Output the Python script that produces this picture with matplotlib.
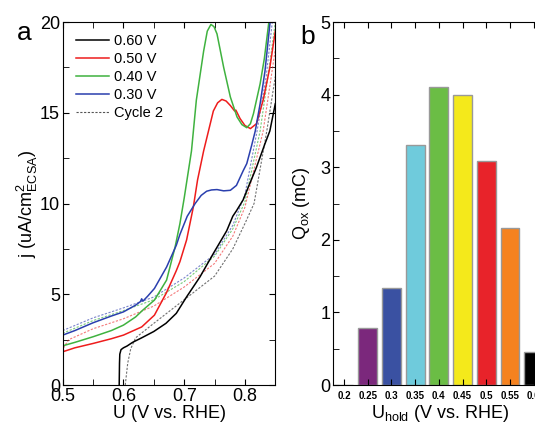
import matplotlib
matplotlib.use("Agg")
import matplotlib.pyplot as plt
from matplotlib.ticker import MultipleLocator

plt.rcParams["font.family"] = ["Liberation Sans", "DejaVu Sans"]
plt.rcParams["mathtext.fontset"] = "custom"
plt.rcParams["mathtext.rm"] = "Liberation Sans"
plt.rcParams["mathtext.it"] = "Liberation Sans"

# ---- panel a: sweeps after holding (solid) and cycle 2 (dotted) ----
black_x = [0.593, 0.5935, 0.594, 0.596, 0.600, 0.606, 0.615, 0.630, 0.650, 0.670, 0.687,
           0.704, 0.726, 0.748, 0.770, 0.780, 0.786, 0.797, 0.803, 0.819, 0.833, 0.841, 0.850]
black_y = [0.0, 1.2, 1.7, 1.95, 2.05, 2.15, 2.35, 2.6, 2.95, 3.4, 3.95,
           4.86, 5.96, 7.25, 8.5, 9.3, 9.6, 10.2, 10.7, 12.0, 13.3, 14.0, 15.5]

red_x = [0.5, 0.52, 0.55, 0.58, 0.6, 0.63, 0.651, 0.671, 0.687, 0.693, 0.704, 0.715,
         0.722, 0.732, 0.74, 0.748, 0.755, 0.762, 0.769, 0.776, 0.783, 0.785, 0.792,
         0.80, 0.809, 0.819, 0.83, 0.841, 0.85]
red_y = [1.83, 2.05, 2.29, 2.55, 2.75, 3.2, 3.85, 5.1, 6.3, 6.8, 8.0, 9.8,
         11.3, 12.9, 14.0, 15.1, 15.55, 15.74, 15.65, 15.4, 15.1, 15.15, 14.68,
         14.3, 14.13, 14.4, 15.7, 17.5, 19.5]

green_x = [0.5, 0.52, 0.55, 0.58, 0.6, 0.62, 0.632, 0.651, 0.671, 0.685, 0.693, 0.7,
           0.712, 0.72, 0.732, 0.738, 0.744, 0.749, 0.754, 0.765, 0.776, 0.787, 0.795,
           0.803, 0.809, 0.814, 0.825, 0.832, 0.839, 0.843]
green_y = [2.16, 2.35, 2.66, 3.0, 3.3, 3.75, 4.13, 4.68, 5.78, 7.6, 8.9, 10.3,
           12.9, 15.7, 18.4, 19.5, 19.87, 19.75, 19.35, 17.5, 15.87, 14.77, 14.35,
           14.18, 14.4, 14.95, 16.6, 18.0, 19.9, 20.5]

blue_x = [0.5, 0.52, 0.55, 0.58, 0.6, 0.62, 0.628, 0.630, 0.632, 0.64, 0.651, 0.671,
          0.687, 0.693, 0.705, 0.718, 0.728, 0.737, 0.745, 0.754, 0.765, 0.776, 0.786,
          0.797, 0.803, 0.811, 0.817, 0.825, 0.833, 0.842]
blue_y = [2.75, 3.0, 3.43, 3.8, 4.03, 4.4, 4.6, 4.75, 4.62, 4.9, 5.32, 6.5,
          7.7, 8.3, 9.3, 10.0, 10.45, 10.68, 10.75, 10.77, 10.7, 10.73, 11.0,
          11.8, 12.2, 13.2, 14.0, 15.5, 17.3, 20.2]

blue2_x = [0.5, 0.55, 0.6, 0.65, 0.7, 0.75, 0.78, 0.8, 0.82, 0.835, 0.845]
blue2_y = [3.0, 3.7, 4.25, 4.85, 5.9, 7.2, 8.8, 10.5, 14.0, 17.0, 20.0]
green2_x = [0.5, 0.55, 0.6, 0.65, 0.7, 0.75, 0.78, 0.8, 0.825, 0.84, 0.85]
green2_y = [2.85, 3.55, 4.1, 4.7, 5.7, 7.1, 8.6, 10.1, 14.0, 17.5, 20.0]
red2_x = [0.5, 0.502, 0.51, 0.55, 0.6, 0.65, 0.7, 0.75, 0.78, 0.8, 0.83, 0.85]
red2_y = [1.0, 2.1, 2.5, 3.1, 3.65, 4.35, 5.4, 6.7, 8.2, 9.8, 14.0, 18.5]
black2_x = [0.603, 0.607, 0.612, 0.62, 0.65, 0.7, 0.75, 0.78, 0.8, 0.815, 0.836, 0.85]
black2_y = [0.0, 1.2, 2.0, 2.6, 3.4, 4.7, 6.0, 7.5, 8.9, 10.0, 14.0, 17.0]

# ---- panel b: oxidation charge vs hold potential ----
u_hold = ["0.2", "0.25", "0.3", "0.35", "0.4", "0.45", "0.5", "0.55", "0.6"]
q_ox = [0.0, 0.79, 1.33, 3.30, 4.10, 4.00, 3.08, 2.17, 0.45]
bar_colors = ["white", "#7b287c", "#3a51a2", "#6fcbdc", "#6bbd45",
              "#f4e91b", "#e8232a", "#f5821f", "black"]

fig = plt.figure(figsize=(5.35, 4.23), dpi=100)
ax = fig.add_axes([0.1172, 0.0898, 0.3974, 0.858])
bx = fig.add_axes([0.623, 0.0898, 0.399, 0.858])

dot = (0, (2.0, 1.4))
ax.plot(blue2_x, blue2_y, color="#2233aa", ls=dot, lw=0.8, alpha=0.6)
ax.plot(green2_x, green2_y, color="#22aa22", ls=dot, lw=0.8, alpha=0.6)
ax.plot(red2_x, red2_y, color="#ee2222", ls=dot, lw=0.8, alpha=0.6)
ax.plot(black2_x, black2_y, color="#222222", ls=dot, lw=0.8, alpha=0.65)

ax.plot(black_x, black_y, color="black", lw=1.1, label="0.60 V")
ax.plot(red_x, red_y, color="#ee1c1c", lw=1.1, label="0.50 V")
ax.plot(green_x, green_y, color="#3fb23f", lw=1.1, label="0.40 V")
ax.plot(blue_x, blue_y, color="#2a3fae", lw=1.1, label="0.30 V")
ax.plot([], [], color="#555555", ls=dot, lw=0.8, label="Cycle 2")

ax.set_xlim(0.5, 0.85)
ax.set_ylim(0, 20)
ax.xaxis.set_minor_locator(MultipleLocator(0.05))
ax.yaxis.set_major_locator(MultipleLocator(5))
ax.yaxis.set_minor_locator(MultipleLocator(2.5))
ax.set_xticks([0.5, 0.6, 0.7, 0.8])
ax.set_xticklabels(["0.5", "0.6", "0.7", "0.8"])
ax.tick_params(which="both", direction="in", top=True, right=True, labelsize=13, pad=2,
               length=4)
ax.set_xlabel("U (V vs. RHE)", fontsize=13, labelpad=0)
ax.set_ylabel("j (uA/cm$^2_{\\mathregular{ECSA}}$)", fontsize=13, labelpad=0)
ax.legend(loc="upper left", bbox_to_anchor=(0.02, 0.99), frameon=False, fontsize=10.5,
          handlelength=2.3, labelspacing=0.27, handletextpad=0.3, borderaxespad=0.2)
fig.text(0.032, 0.905, "a", fontsize=19)

xpos = list(range(len(u_hold)))
bx.bar(xpos, q_ox, width=0.8, color=bar_colors, edgecolor="#999999", linewidth=1.0)
bx.set_xlim(-0.45, 8.55)
bx.set_ylim(0, 5)
bx.set_xticks(xpos)
bx.set_xticklabels(u_hold, fontsize=7, fontweight="bold")
bx.yaxis.set_major_locator(MultipleLocator(1))
bx.yaxis.set_minor_locator(MultipleLocator(0.5))
bx.tick_params(which="both", direction="in", top=True, right=True, length=4)
bx.tick_params(axis="y", labelsize=13, pad=2)
bx.tick_params(axis="x", pad=4)
bx.set_ylabel("Q$_{\\mathregular{ox}}$ (mC)", fontsize=13, labelpad=6)
bx.set_xlabel("U$_{\\mathregular{hold}}$ (V vs. RHE)", fontsize=13, labelpad=2)
fig.text(0.562, 0.895, "b", fontsize=19)

fig.savefig("out.png", dpi=100)
